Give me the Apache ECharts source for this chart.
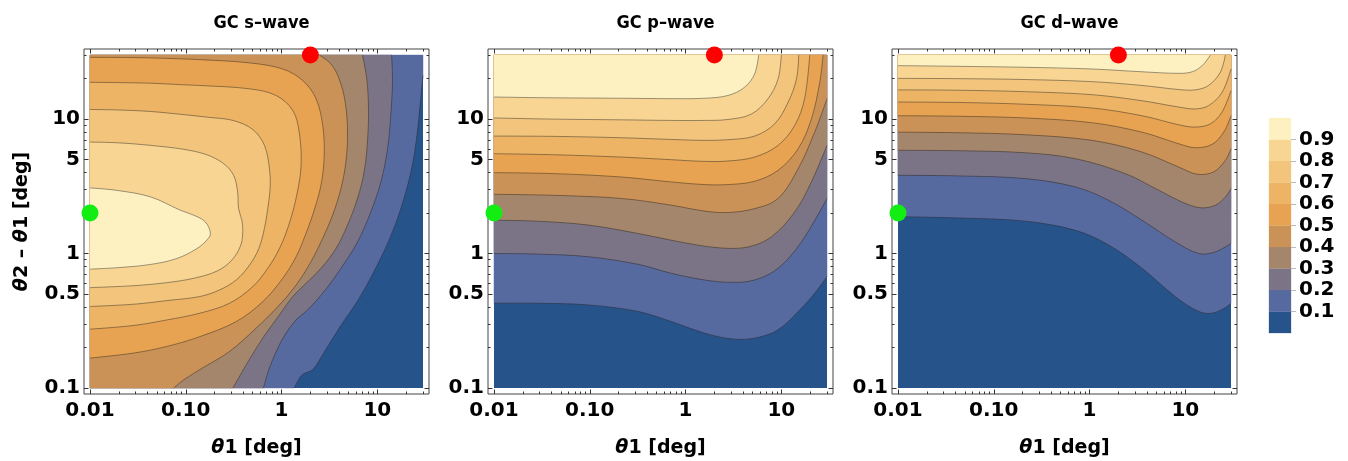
<!DOCTYPE html>
<html><head><meta charset="utf-8">
<script src="https://cdn.jsdelivr.net/npm/echarts@6/dist/echarts.min.js"></script>
<style>html,body{margin:0;padding:0;background:#fff}#c{width:1348px;height:461px}</style>
</head><body><div id="c"></div>
<script>
// ---------- data ----------
const panelTitles = ['GC s\u2013wave', 'GC p\u2013wave', 'GC d\u2013wave'];
const levels = [0.1, 0.2, 0.3, 0.4, 0.5, 0.6, 0.7, 0.8, 0.9];
const bandColors = ['#26548a', '#576aa0', '#7b7487', '#a4866c', '#cb9258', '#e7a352', '#edb466', '#f2c47c', '#f8d593', '#fdf1c1'];
const xRange = [0.01, 30];
const yRange = [0.1, 30];
const xTickValues = [0.01, 0.1, 1, 10];
const xTickLabels = ['0.01', '0.10', '1', '10'];
const xMinorTicks = [0.02, 0.03, 0.04, 0.05, 0.06, 0.07, 0.08, 0.09, 0.2, 0.3, 0.4, 0.5, 0.6, 0.7, 0.8, 0.9, 2, 3, 4, 5, 6, 7, 8, 9, 20, 30];
const yTickValues = [0.1, 0.5, 1, 5, 10];
const yTickLabels = ['0.1', '0.5', '1', '5', '10'];
const yMinorTicks = [0.2, 0.3, 0.4, 0.6, 0.7, 0.8, 0.9, 2, 3, 4, 6, 7, 8, 9, 20, 30];
const greenPoint = [0.01, 2];
const redPoint = [2, 30];

// contour lines [theta1, theta2 - theta1] in degrees, high side on the left
const s01 = [[1.36,0.1],[1.47,0.112],[1.66,0.126],[2.11,0.137],[2.69,0.177],[4.00,0.279],[6.47,0.465],[10.0,0.822],[14.4,1.45],[19.0,2.57],[23.2,4.53],[26.2,8.0],[28.4,14.2],[30,21.1]];
const s02 = [[0.647,0.1],[0.748,0.141],[0.951,0.210],[1.21,0.279],[1.47,0.330],[1.80,0.371],[2.69,0.507],[4.17,0.777],[6.21,1.22],[8.55,2.04],[10.9,3.41],[12.8,6.03],[13.8,10.6],[14.4,18.8],[14.1,30]];
const s03 = [[0.311,0.1],[0.428,0.149],[0.637,0.235],[0.951,0.350],[1.31,0.479],[1.66,0.568],[2.58,0.777],[3.70,1.09],[4.89,1.63],[6.21,2.57],[7.29,4.05],[7.89,6.75],[8.09,11.9],[7.77,19.9],[7.00,30]];
const s04 = [[0.0748,0.1],[0.0953,0.115],[0.140,0.137],[0.286,0.187],[0.543,0.279],[0.951,0.415],[1.42,0.584],[2.03,0.871],[2.69,1.30],[3.41,1.93],[4.17,3.04],[4.70,4.80],[4.89,8.0],[4.62,13.4],[4.00,19.9],[3.28,25.7],[2.48,30]];
const s05 = [[0.01,0.167],[0.0287,0.182],[0.0638,0.204],[0.140,0.241],[0.336,0.312],[0.637,0.439],[1.03,0.655],[1.42,0.948],[1.77,1.37],[2.11,1.93],[2.58,3.22],[2.79,5.38],[2.69,8.97],[2.29,14.2],[1.66,19.4],[1.03,23.6],[0.464,26.2],[0.140,27.7],[0.0638,28.3],[0.0287,28.7],[0.01,28.8]];
const s06 = [[0.01,0.274],[0.0287,0.292],[0.0638,0.321],[0.140,0.360],[0.286,0.427],[0.501,0.568],[0.718,0.777],[0.951,1.09],[1.19,1.63],[1.44,2.71],[1.60,4.53],[1.53,8.0],[1.31,11.6],[0.877,15.0],[0.464,16.8],[0.140,17.8],[0.0953,18.0],[0.0429,18.5],[0.0193,18.7],[0.01,18.8]];
const s07 = [[0.01,0.404],[0.0287,0.420],[0.0638,0.447],[0.140,0.479],[0.225,0.536],[0.336,0.636],[0.464,0.822],[0.579,1.09],[0.663,1.54],[0.718,2.16],[0.760,3.04],[0.748,4.28],[0.663,6.38],[0.501,8.37],[0.311,9.78],[0.177,10.3],[0.0953,10.8],[0.0429,11.4],[0.0193,11.7],[0.01,11.8]];
const s08 = [[0.01,0.558],[0.0287,0.577],[0.0638,0.608],[0.121,0.655],[0.212,0.741],[0.303,0.895],[0.376,1.16],[0.394,1.49],[0.385,1.77],[0.356,2.16],[0.348,2.88],[0.316,3.82],[0.248,4.67],[0.166,5.43],[0.0953,5.96],[0.0429,6.38],[0.0193,6.67],[0.01,6.75]];
const s09 = [[0.01,0.766],[0.0192,0.785],[0.0429,0.83],[0.081,0.92],[0.131,1.09],[0.166,1.26],[0.181,1.41],[0.160,1.72],[0.121,1.93],[0.0879,2.10],[0.0429,2.64],[0.0192,2.95],[0.01,3.08]];

const p01 = [[0.01,0.427],[0.0288,0.427],[0.0959,0.415],[0.319,0.371],[0.711,0.312],[1.58,0.256],[3.01,0.232],[5.27,0.235],[9.25,0.271],[16.2,0.392],[22.3,0.507],[30,0.673]];
const p02 = [[0.01,1.00],[0.0288,0.991],[0.0959,0.948],[0.319,0.832],[0.711,0.713],[1.58,0.636],[3.01,0.611],[5.27,0.636],[9.25,0.777],[16.2,1.22],[30,2.57]];
const p03 = [[0.01,1.77],[0.0288,1.74],[0.0959,1.63],[0.319,1.41],[1.06,1.19],[2.37,1.10],[4.50,1.12],[7.87,1.33],[13.8,2.04],[20.6,3.41],[30,6.38]];
const p04 = [[0.01,2.76],[0.0431,2.71],[0.214,2.57],[0.711,2.29],[1.58,2.07],[2.78,2.02],[5.27,2.16],[9.25,2.57],[15.0,4.28],[22.3,8.0],[30,14.2]];
const p05 = [[0.01,4.00],[0.0431,3.93],[0.214,3.71],[0.711,3.41],[1.58,3.26],[2.78,3.26],[5.27,3.45],[9.25,4.16],[15.0,6.03],[20.6,10.0],[25.2,18.8],[27.3,30]];
const p06 = [[0.01,5.53],[0.0431,5.43],[0.214,5.22],[0.711,4.99],[1.58,4.85],[2.78,4.88],[5.27,5.22],[9.25,6.38],[13.8,8.97],[17.5,14.2],[19.8,30]];
const p07 = [[0.01,7.48],[0.0431,7.44],[0.214,7.27],[0.711,7.06],[1.58,6.95],[2.78,7.03],[5.27,7.48],[8.53,9.23],[11.8,13.4],[14.4,19.9],[15.2,30]];
const p08 = [[0.01,10.2],[0.0431,10.0],[0.214,9.88],[0.711,9.78],[1.58,9.78],[2.78,9.94],[4.86,10.9],[7.27,14.2],[9.25,19.9],[10.0,30]];
const p09 = [[0.01,14.6],[0.0431,14.4],[0.214,14.3],[0.711,14.2],[1.58,14.3],[2.78,15.0],[4.15,17.3],[5.27,21.7],[5.80,30]];

const d01 = [[0.01,1.88],[0.0431,1.84],[0.214,1.74],[0.711,1.49],[1.58,1.16],[3.53,0.777],[7.87,0.478],[13.8,0.371],[19.0,0.360],[26.2,0.396],[30,0.427]];
const d02 = [[0.01,3.82],[0.0431,3.78],[0.214,3.61],[0.711,3.13],[1.58,2.49],[3.53,1.77],[7.87,1.22],[13.8,1.00],[19.8,1.02],[26.2,1.12],[30,1.19]];
const d03 = [[0.01,5.86],[0.0431,5.82],[0.214,5.62],[0.711,5.08],[2.37,3.93],[5.27,2.96],[9.25,2.42],[14.4,2.19],[20.6,2.29],[26.2,2.64],[30,3.04]];
const d04 = [[0.01,8.0],[0.0431,7.92],[0.214,7.65],[1.06,6.95],[3.53,5.69],[8.53,4.40],[13.3,3.89],[19.8,4.05],[26.2,4.94],[30,6.03]];
const d05 = [[0.01,10.6],[0.0431,10.5],[0.214,10.2],[1.06,9.40],[3.53,8.0],[8.53,6.56],[12.7,6.13],[19.0,6.49],[25.2,8.0],[30,10.6]];
const d06 = [[0.01,13.4],[0.0431,13.3],[0.214,12.9],[1.06,12.1],[3.53,10.6],[8.53,9.08],[12.7,8.72],[18.3,9.23],[24.2,11.3],[30,16.3]];
const d07 = [[0.01,16.5],[0.0431,16.4],[0.214,16.0],[1.06,15.2],[3.53,13.7],[8.53,12.3],[12.7,11.9],[17.5,12.6],[24.2,15.8],[30,23.6]];
const d08 = [[0.01,20.1],[0.0431,20.0],[0.214,19.7],[1.06,19.0],[3.53,17.8],[8.53,16.6],[12.7,16.5],[17.5,17.8],[23.2,22.3],[26.2,30]];
const d09 = [[0.01,25.0],[0.0431,24.7],[0.214,24.3],[1.06,23.6],[3.53,22.5],[8.53,21.9],[11.8,22.5],[15.0,25.0],[18.3,30]];

// ---------- build ----------
const L = Math.log10;
const LX0 = L(xRange[0]), LX1 = L(xRange[1]), LY0 = L(yRange[0]), LY1 = L(yRange[1]);
const padX = 0.0625, padY = 0.0445;
const gridLefts = [84, 488, 892];
const gridTop = 49, gridSize = 345;
const SMOOTH = 0.35;
const FONT = "'DejaVu Sans', sans-serif";
const TFONT = "'DejaVu Sans Condensed', 'DejaVu Sans', sans-serif";
const panels = [
  [s01, s02, s03, s04, s05, s06, s07, s08, s09],
  [p01, p02, p03, p04, p05, p06, p07, p08, p09],
  [d01, d02, d03, d04, d05, d06, d07, d08, d09]
];

function perimT(p) {
  const lx = L(p[0]), ly = L(p[1]), e = 1e-3;
  if (Math.abs(ly - LY0) < e) return (lx - LX0) / (LX1 - LX0);
  if (Math.abs(lx - LX1) < e) return 1 + (ly - LY0) / (LY1 - LY0);
  if (Math.abs(ly - LY1) < e) return 2 + (LX1 - lx) / (LX1 - LX0);
  return 3 + (LY1 - ly) / (LY1 - LY0);
}
const cornerPts = [[xRange[0], yRange[0]], [xRange[1], yRange[0]], [xRange[1], yRange[1]], [xRange[0], yRange[1]]];
// closed outline of the region above a contour; end points and corners doubled so that smoothing keeps edges straight
function regionAbove(c) {
  const te = perimT(c[c.length - 1]);
  let ts = perimT(c[0]);
  if (ts <= te) ts += 4;
  const pts = [c[0]].concat(c, [c[c.length - 1]]);
  for (let k = Math.floor(te) + 1; k < ts; k++) pts.push(cornerPts[k % 4], cornerPts[k % 4]);
  return pts;
}
function fmt(v, vals, labs) {
  for (let i = 0; i < vals.length; i++) if (Math.abs(L(vals[i]) - v) < 1e-6) return labs[i];
  return '';
}

const grid = [], xAxis = [], yAxis = [], series = [], title = [];
const tickColor = '#333';
const labelStyle = { fontSize: 20, fontWeight: 'bold', color: '#000', fontFamily: FONT };
const nameStyle = { fontSize: 19, fontWeight: 'bold', color: '#000', fontFamily: FONT,
  rich: { i: { fontSize: 19, fontWeight: 'bold', fontStyle: 'italic', color: '#000', fontFamily: FONT } } };
const noLine = { show: false, onZero: false };

panels.forEach((contours, g) => {
  grid.push({ left: gridLefts[g], top: gridTop, width: gridSize, height: gridSize, show: true,
    borderColor: '#444', borderWidth: 1, outerBoundsMode: 'none' });
  title.push({ text: panelTitles[g], left: gridLefts[g] + gridSize / 2, top: 9, textAlign: 'center',
    textStyle: { fontSize: 18, fontWeight: 'bold', color: '#000', fontFamily: TFONT } });
  const xb = { gridIndex: g, type: 'value', z: 10, min: LX0 - padX, max: LX1 + padX, splitLine: { show: false }, axisLine: noLine };
  const yb = { gridIndex: g, type: 'value', z: 10, min: LY0 - padY, max: LY1 + padY, splitLine: { show: false }, axisLine: noLine };
  const major = vals => ({ show: true, inside: true, length: 4.5, customValues: vals.map(L), lineStyle: { color: tickColor, width: 1 } });
  const minor = vals => ({ show: true, inside: true, length: 2.5, customValues: vals.map(L), lineStyle: { color: tickColor, width: 1 } });
  xAxis.push(Object.assign({}, xb, { position: 'bottom', axisTick: major(xTickValues),
    axisLabel: Object.assign({ customValues: xTickValues.map(L), formatter: v => fmt(v, xTickValues, xTickLabels), margin: 7 }, labelStyle),
    name: '{i|\u03b8}1 [deg]', nameLocation: 'middle', nameGap: 45, nameTextStyle: nameStyle }));
  xAxis.push(Object.assign({}, xb, { position: 'bottom', axisTick: minor(xMinorTicks), axisLabel: { show: false } }));
  xAxis.push(Object.assign({}, xb, { position: 'top', axisTick: major(xTickValues), axisLabel: { show: false } }));
  xAxis.push(Object.assign({}, xb, { position: 'top', axisTick: minor(xMinorTicks), axisLabel: { show: false } }));
  const yMain = Object.assign({}, yb, { position: 'left', axisTick: major(yTickValues),
    axisLabel: Object.assign({ customValues: yTickValues.map(L), formatter: v => fmt(v, yTickValues, yTickLabels), margin: 4 }, labelStyle) });
  if (g === 0) Object.assign(yMain, { name: '{i|\u03b8}2 \u2013 {i|\u03b8}1 [deg]', nameLocation: 'middle', nameRotate: 90, nameGap: 52, nameTextStyle: nameStyle });
  yAxis.push(yMain);
  yAxis.push(Object.assign({}, yb, { position: 'left', axisTick: minor(yMinorTicks), axisLabel: { show: false } }));
  yAxis.push(Object.assign({}, yb, { position: 'right', axisTick: major(yTickValues), axisLabel: { show: false } }));
  yAxis.push(Object.assign({}, yb, { position: 'right', axisTick: minor(yMinorTicks), axisLabel: { show: false } }));

  const ax = 4 * g;
  const toPx = (api, pts) => pts.map(p => api.coord([L(p[0]), L(p[1])]));
  // filled bands
  series.push({
    type: 'custom', xAxisIndex: ax, yAxisIndex: ax, silent: true, clip: true, z: 1,
    data: bandColors.map((c, i) => [i]),
    renderItem: (params, api) => {
      const i = api.value(0);
      if (i === 0) return { type: 'polygon', shape: { points: toPx(api, cornerPts) }, style: { fill: bandColors[0] } };
      return { type: 'polygon', shape: { points: toPx(api, regionAbove(contours[i - 1])), smooth: SMOOTH },
        style: { fill: bandColors[i], stroke: bandColors[i], lineWidth: 0.4 } };
    }
  });
  // contour lines
  series.push({
    type: 'custom', xAxisIndex: ax, yAxisIndex: ax, silent: true, clip: true, z: 3,
    data: levels.map((v, i) => [i]),
    renderItem: (params, api) => {
      const i = api.value(0);
      return { type: 'polyline', shape: { points: toPx(api, contours[i]), smooth: SMOOTH },
        style: { fill: null, stroke: 'rgba(20,20,20,0.42)', lineWidth: 1 } };
    }
  });
  series.push({ type: 'scatter', xAxisIndex: ax, yAxisIndex: ax, silent: true, z: 20, symbolSize: 17,
    data: [[L(greenPoint[0]), L(greenPoint[1])]], itemStyle: { color: '#12ee12', opacity: 1 } });
  series.push({ type: 'scatter', xAxisIndex: ax, yAxisIndex: ax, silent: true, z: 20, symbolSize: 17,
    data: [[L(redPoint[0]), L(redPoint[1])]], itemStyle: { color: '#ff0000', opacity: 1 } });
});

// colour bar
const bandEdges = [0].concat(levels, [1]);
grid.push({ left: 1269, top: 118, width: 22, height: 215, show: false, outerBoundsMode: 'none' });
xAxis.push({ gridIndex: 3, type: 'value', min: 0, max: 1, show: false });
yAxis.push({ gridIndex: 3, type: 'value', min: 0, max: 1, position: 'right', z: 10, splitLine: { show: false }, axisLine: noLine,
  axisTick: { show: true, inside: false, length: 5, customValues: levels, lineStyle: { color: '#bbb', width: 1 } },
  axisLabel: Object.assign({ customValues: levels, formatter: v => v.toFixed(1), margin: 8 }, labelStyle) });
series.push({
  type: 'custom', xAxisIndex: 12, yAxisIndex: 12, silent: true,
  data: bandColors.map((c, i) => [i]),
  renderItem: (params, api) => {
    const i = api.value(0);
    const a = api.coord([0, bandEdges[i + 1]]), b = api.coord([1, bandEdges[i]]);
    return { type: 'rect', shape: { x: a[0], y: a[1], width: b[0] - a[0], height: b[1] - a[1] },
      style: { fill: bandColors[i], stroke: bandColors[i], lineWidth: 0.3 } };
  }
});

const chart = echarts.init(document.getElementById('c'), null, { renderer: 'canvas' });
chart.setOption({ animation: false, backgroundColor: '#fff', title, grid, xAxis, yAxis, series });
</script></body></html>
